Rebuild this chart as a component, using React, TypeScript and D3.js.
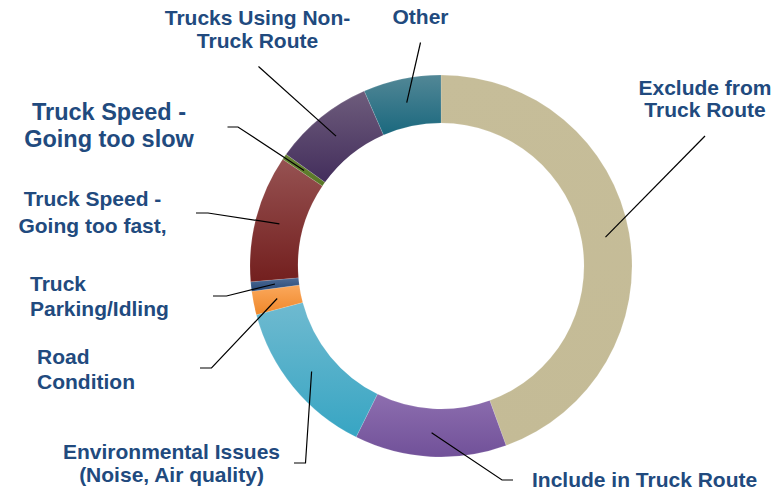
import React from "react";
import * as d3 from "d3";

const categories = [
  "Exclude from Truck Route",
  "Include in Truck Route",
  "Environmental Issues (Noise, Air quality)",
  "Road Condition",
  "Truck Parking/Idling",
  "Truck Speed - Going too fast,",
  "Truck Speed - Going too slow",
  "Trucks Using Non-Truck Route",
  "Other",
];
const values = [44.6, 12.9, 13.6, 2.0, 0.8, 10.8, 0.5, 8.5, 6.6];
const labelLines = [
  ["Exclude from", "Truck Route"],
  ["Include in Truck Route"],
  ["Environmental Issues", "(Noise, Air quality)"],
  ["Road", "Condition"],
  ["Truck", "Parking/Idling"],
  ["Truck Speed -", "Going too fast,"],
  ["Truck Speed -", "Going too slow"],
  ["Trucks Using Non-", "Truck Route"],
  ["Other"],
];

// colors: [top, bottom] of vertical gradient
const colors: [string, string][] = [
  ["#c6bd99", "#c4bb96"],
  ["#8d6eaf", "#715199"],
  ["#6fbad0", "#37a5c3"],
  ["#fba85c", "#ef882a"],
  ["#4d6c97", "#284876"],
  ["#965252", "#731f1e"],
  ["#678534", "#587626"],
  ["#6e5c7c", "#432e5c"],
  ["#528796", "#1a687e"],
];

type Layout = {
  x: number;
  y: number;
  anchor: "start" | "middle" | "end";
  size: number;
  lh: number;
  leader: [number, number][];
};
const layouts: Layout[] = [
  { x: 705, y: 94.5, anchor: "middle", size: 21, lh: 22.5, leader: [[705, 136]] },
  { x: 532, y: 487, anchor: "start", size: 21, lh: 23, leader: [[513, 480], [502, 480]] },
  { x: 171.5, y: 458.5, anchor: "middle", size: 21, lh: 23.5, leader: [[294, 463], [305.5, 463]] },
  { x: 37, y: 363.5, anchor: "start", size: 21, lh: 25, leader: [[200, 368], [211.5, 368]] },
  { x: 30, y: 291, anchor: "start", size: 21, lh: 24.5, leader: [[213, 296], [226.5, 296]] },
  { x: 92.5, y: 206, anchor: "middle", size: 21, lh: 27, leader: [[196, 213], [208, 213]] },
  { x: 109, y: 119.5, anchor: "middle", size: 23.5, lh: 27, leader: [[227.5, 127], [238, 127]] },
  { x: 257.5, y: 25, anchor: "middle", size: 21, lh: 23.3, leader: [[258.5, 66.5]] },
  { x: 420.5, y: 24, anchor: "middle", size: 21, lh: 23, leader: [[420.5, 42.5]] },
];

const W = 783;
const H = 491;
const cx = 441;
const cy = 266;
const rOuter = 191;
const rInner = 143;
const textColor = "#214a7e";

export default function App() {
  const pie = d3
    .pie<number>()
    .sort(null)
    .value((d) => d)
    .startAngle(0)
    .endAngle(2 * Math.PI);
  const arcs = pie(values);
  const arc = d3.arc<d3.PieArcDatum<number>>().innerRadius(rInner).outerRadius(rOuter);
  const line = d3.line();

  return (
    <div style={{ position: "absolute", left: 0, top: 0 }}>
      <svg width={W} height={H} style={{ display: "block" }}>
        <defs>
          {colors.map((c, i) => (
            <linearGradient key={i} id={`g${i}`} x1="0" y1="0" x2="0" y2="1">
              <stop offset="0%" stopColor={c[0]} />
              <stop offset="100%" stopColor={c[1]} />
            </linearGradient>
          ))}
        </defs>
        <g transform={`translate(${cx},${cy})`}>
          {arcs.map((a, i) => (
            <path
              key={categories[i]}
              d={arc(a) || ""}
              fill={`url(#g${i})`}
              stroke="#ffffff"
              strokeOpacity={0.25}
              strokeWidth={0.5}
            />
          ))}
        </g>
        {arcs.map((a, i) => {
          const [mx, my] = arc.centroid(a);
          const pts: [number, number][] = [...layouts[i].leader, [cx + mx, cy + my]];
          return (
            <path
              key={`l${i}`}
              d={line(pts) || ""}
              fill="none"
              stroke="#000"
              strokeWidth={1.2}
            />
          );
        })}
        {labelLines.map((lines, i) => {
          const L = layouts[i];
          return (
            <text
              key={`t${i}`}
              x={L.x}
              y={L.y}
              textAnchor={L.anchor}
              fontFamily="'Liberation Sans', Arial, sans-serif"
              fontWeight="bold"
              fontSize={L.size}
              fill={textColor}
            >
              {lines.map((ln, j) => (
                <tspan key={j} x={L.x} y={L.y + j * L.lh}>
                  {ln}
                </tspan>
              ))}
            </text>
          );
        })}
      </svg>
    </div>
  );
}
